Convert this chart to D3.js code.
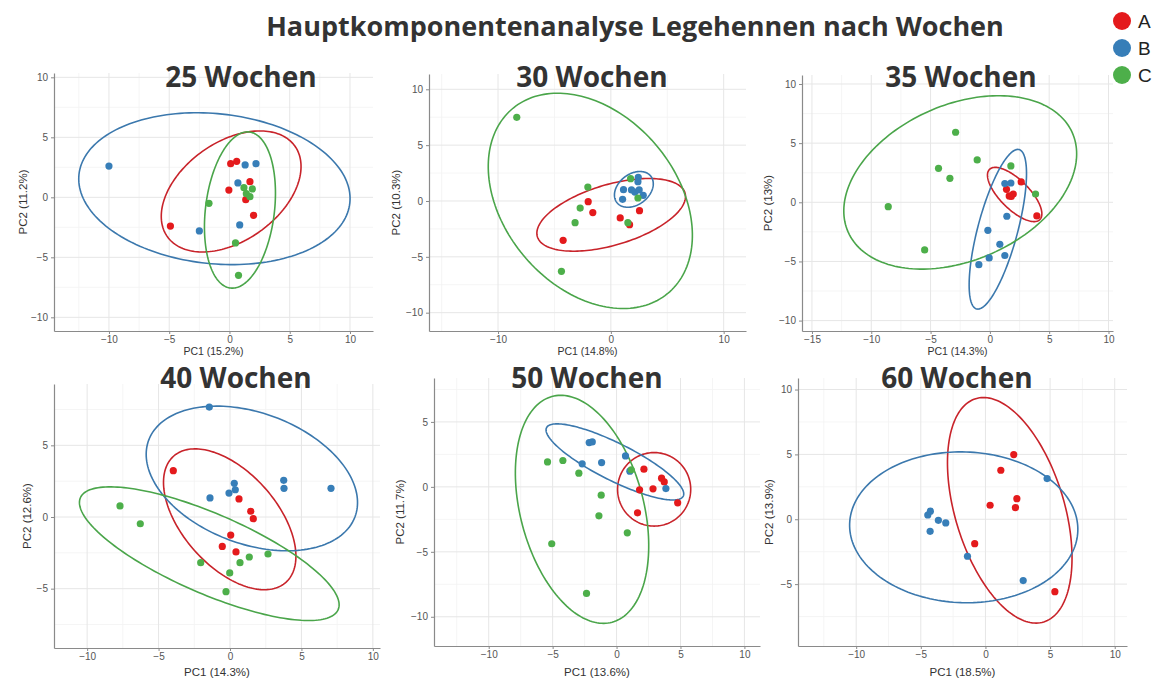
<!DOCTYPE html>
<html>
<head>
<meta charset="utf-8">
<script src="https://cdnjs.cloudflare.com/ajax/libs/d3/7.8.5/d3.min.js"></script>
<style>
  body { margin: 0; background: #fff; }
  text { font-family: "Liberation Sans", Arial, sans-serif; }
  .title { font-family: "Open Sans", sans-serif; font-weight: 700; fill: #333; }
</style>
</head>
<body>
<div id="chart-area"></div>
<script>
/*
*    PCA Legehennen - 6 panels, one per age in weeks
*/

let groups = ["A", "B", "C"];
let pointColors = ["#e41a1c", "#377eb8", "#4daf4a"];
let ellipseColors = ["#c8232a", "#3b78ad", "#4aa54a"];

let weeks = ["25 Wochen", "30 Wochen", "35 Wochen", "40 Wochen", "50 Wochen", "60 Wochen"];
let pc1Labels = ["PC1 (15.2%)", "PC1 (14.8%)", "PC1 (14.3%)", "PC1 (14.3%)", "PC1 (13.6%)", "PC1 (18.5%)"];
let pc2Labels = ["PC2 (11.2%)", "PC2 (10.3%)", "PC2 (13%)", "PC2 (12.6%)", "PC2 (11.7%)", "PC2 (13.9%)"];

let xTicks = [[-10,-5,0,5,10], [-10,0,10], [-15,-10,-5,0,5,10], [-10,-5,0,5,10], [-10,-5,0,5,10], [-10,-5,0,5,10]];
let yTicks = [[-10,-5,0,5,10], [-10,-5,0,5,10], [-10,-5,0,5,10], [-5,0,5], [-10,-5,0,5], [-5,0,5,10]];

// scores: [group, PC1, PC2]
let scores25 = [
  ["A",-4.9,-2.4],["A",-0.05,0.6],["A",0.1,2.8],["A",0.6,3.0],["A",1.7,1.3],["A",1.35,-0.2],["A",2.0,-1.5],
  ["B",-10.0,2.6],["B",-2.5,-2.8],["B",1.3,2.7],["B",2.2,2.8],["B",0.7,1.2],["B",0.85,-2.3],
  ["C",-1.7,-0.5],["C",1.2,0.8],["C",1.9,0.7],["C",1.4,0.3],["C",1.7,0.05],["C",0.5,-3.8],["C",0.75,-6.5]
];
let scores30 = [
  ["A",-4.23,-3.52],["A",-2.01,-0.06],["A",-1.6,-1.04],["A",0.83,-1.52],["A",1.66,-2.12],["A",2.54,-0.87],
  ["B",1.04,0.15],["B",1.12,1.01],["B",1.83,0.99],["B",2.13,0.8],["B",2.4,1.73],["B",2.43,2.12],["B",2.51,0.99],["B",2.87,0.51],
  ["C",-8.34,7.49],["C",-4.38,-6.3],["C",-3.17,-1.94],["C",-2.72,-0.63],["C",-2.04,1.25],["C",1.51,-1.94],["C",2.4,0.27],["C",1.75,2.0]
];
let scores35 = [
  ["A",2.64,1.72],["A",1.4,1.1],["A",1.63,0.54],["A",1.97,0.7],["A",1.8,0.5],["A",3.96,-1.15],
  ["B",1.26,1.58],["B",1.77,1.63],["B",1.43,-1.18],["B",-0.17,-2.37],["B",0.84,-3.55],["B",-0.06,-4.7],["B",1.26,-4.5],["B",-0.93,-5.27],
  ["C",-8.57,-0.37],["C",-5.5,-4.03],["C",-4.33,2.87],["C",-3.37,2.03],["C",-2.89,5.92],["C",-1.07,3.58],["C",1.77,3.07],["C",3.85,0.7]
];
let scores40 = [
  ["A",-3.97,3.23],["A",0.63,1.26],["A",1.45,0.4],["A",1.63,-0.12],["A",0.05,-1.26],["A",-0.54,-2.05],["A",0.42,-2.44],
  ["B",-1.45,7.67],["B",-1.4,1.33],["B",-0.07,1.67],["B",0.3,2.35],["B",0.37,1.9],["B",3.76,2.56],["B",3.78,2.0],["B",7.07,2.0],
  ["C",-7.7,0.77],["C",-6.28,-0.47],["C",-2.05,-3.19],["C",-0.02,-3.9],["C",0.7,-3.19],["C",1.35,-2.79],["C",2.66,-2.58],["C",-0.28,-5.21]
];
let scores50 = [
  ["A",2.14,1.36],["A",3.52,0.67],["A",3.73,0.38],["A",1.8,-0.23],["A",2.85,-0.15],["A",4.78,-1.23],["A",1.64,-2.0],
  ["B",-2.69,1.77],["B",-2.14,3.41],["B",-1.9,3.46],["B",-1.17,1.87],["B",0.7,2.38],["B",1.04,1.21],["B",3.86,-0.13],
  ["C",-5.4,1.92],["C",-4.2,2.03],["C",-2.95,1.05],["C",1.15,1.31],["C",-1.2,-0.64],["C",-1.38,-2.23],["C",0.84,-3.54],["C",-5.07,-4.38],["C",-2.35,-8.2]
];
let scores60 = [
  ["A",2.19,4.99],["A",1.19,3.78],["A",0.36,1.08],["A",2.43,1.59],["A",2.32,0.9],["A",-0.83,-1.88],["A",5.37,-5.58],
  ["B",-4.46,0.33],["B",-4.26,0.62],["B",-4.28,-0.93],["B",-3.64,-0.08],["B",-3.07,-0.28],["B",-1.39,-2.85],["B",2.92,-4.73],["B",4.77,3.14]
];

// ellipses: [group, centre PC1, centre PC2, semi axis a, semi axis b, angle in degrees]
let ellipses25 = [["A",0.14,0.49,6.5,4.1,35.6], ["B",-1.25,0.72,11.3,6.25,-6], ["C",0.87,-1.06,6.55,2.86,83.1]];
let ellipses30 = [["A",0.03,-1.24,6.83,2.71,16.7], ["B",2.04,1.04,1.91,1.37,38.5], ["C",-1.82,0.01,10.76,7.68,-50.6]];
let ellipses35 = [["A",2.09,0.66,3.0,1.23,-45], ["B",0.67,-2.28,6.97,1.68,75.1], ["C",-2.5,1.68,10.34,6.57,24]];
let ellipses40 = [["A",-0.02,-0.16,5.9,3.29,-48.2], ["B",1.53,2.69,7.7,4.57,-20.2], ["C",-1.45,-2.56,9.83,2.78,-23.4]];
let ellipses50 = [["A",2.94,-0.19,2.86,2.83,0], ["B",-0.13,1.92,5.96,1.44,-26.2], ["C",-2.7,-1.73,9.0,4.82,-74.8]];
let ellipses60 = [["A",1.88,0.69,9.0,4.22,-73], ["B",-1.68,-0.62,8.83,5.81,-1.8]];

let allScores = [scores25, scores30, scores35, scores40, scores50, scores60];
let allEllipses = [ellipses25, ellipses30, ellipses35, ellipses40, ellipses50, ellipses60];

// panel boxes (pixels), visible axis ranges, title / axis title spots
let layout = [
  { left:54,  right:373,  top:73,  bottom:331, xd:[-14.56,11.91], yd:[-11.14,10.36], tx:241, ty:87,    xl:355, xf:10.5, yl:23 },
  { left:429, right:746,  top:74,  bottom:331, xd:[-16.12,11.98], yd:[-11.64,11.37], tx:592, ty:87,    xl:355, xf:10.5, yl:396 },
  { left:802, right:1113, top:75,  bottom:331, xd:[-15.84,10.38], yd:[-10.88,10.76], tx:961, ty:87,    xl:355, xf:10.5, yl:768 },
  { left:54,  right:380,  top:384, bottom:648, xd:[-12.32,10.5],  yd:[-9.14,9.28],   tx:236, ty:387.5, xl:676, xf:11.5, yl:27 },
  { left:434, right:760,  top:378, bottom:646, xd:[-14.28,11.22], yd:[-12.25,8.38],  tx:587, ty:387.5, xl:676, xf:11.5, yl:400 },
  { left:798, right:1127, top:378, bottom:646, xd:[-14.5,10.95],  yd:[-9.77,10.89],  tx:957, ty:387.5, xl:676, xf:11.5, yl:769 }
];

let svg = d3.select("#chart-area")
            .append("svg")
            .attr("width", 1152)
            .attr("height", 684);

let minus = function(v){ return (v < 0 ? "\u2212" : "") + Math.abs(v); };

layout.forEach(function(p, i){
    let x = d3.scaleLinear().domain(p.xd).range([p.left, p.right]);
    let y = d3.scaleLinear().domain(p.yd).range([p.bottom, p.top]);
    let g = svg.append("g");

    // grid: minor lines half way between major ticks
    let xs = xTicks[i], ys = yTicks[i];
    let xStep = xs[1] - xs[0], yStep = ys[1] - ys[0];
    let xMinor = d3.range(xs[0] - xStep * 1.5, xs[xs.length-1] + xStep, xStep).filter(function(v){ return v > p.xd[0] && v < p.xd[1]; });
    let yMinor = d3.range(ys[0] - yStep * 1.5, ys[ys.length-1] + yStep, yStep).filter(function(v){ return v > p.yd[0] && v < p.yd[1]; });

    g.selectAll(".xminor").data(xMinor).enter().append("line")
        .attr("x1", function(d){ return x(d); }).attr("x2", function(d){ return x(d); })
        .attr("y1", p.top).attr("y2", p.bottom)
        .attr("stroke", "#f3f3f3").attr("stroke-width", 0.8);
    g.selectAll(".yminor").data(yMinor).enter().append("line")
        .attr("y1", function(d){ return y(d); }).attr("y2", function(d){ return y(d); })
        .attr("x1", p.left).attr("x2", p.right)
        .attr("stroke", "#f3f3f3").attr("stroke-width", 0.8);
    g.selectAll(".xmajor").data(xs).enter().append("line")
        .attr("x1", function(d){ return x(d); }).attr("x2", function(d){ return x(d); })
        .attr("y1", p.top).attr("y2", p.bottom)
        .attr("stroke", "#e6e6e6").attr("stroke-width", 1);
    g.selectAll(".ymajor").data(ys).enter().append("line")
        .attr("y1", function(d){ return y(d); }).attr("y2", function(d){ return y(d); })
        .attr("x1", p.left).attr("x2", p.right)
        .attr("stroke", "#e6e6e6").attr("stroke-width", 1);

    // axes
    let xAxis = d3.axisBottom(x).tickValues(xs).tickSize(3).tickSizeOuter(0).tickPadding(2).tickFormat(minus);
    let yAxis = d3.axisLeft(y).tickValues(ys).tickSize(3).tickSizeOuter(0).tickPadding(3).tickFormat(minus);

    let xg = g.append("g").attr("transform", "translate(0," + p.bottom + ")").call(xAxis);
    let yg = g.append("g").attr("transform", "translate(" + p.left + ",0)").call(yAxis);
    [xg, yg].forEach(function(a){
        a.select(".domain").attr("stroke", "#8a8a8a").attr("stroke-width", 1.2);
        a.selectAll(".tick line").attr("stroke", "#8a8a8a");
        a.selectAll(".tick text").attr("fill", "#555").attr("font-size", "10px")
         .attr("font-family", "'Liberation Sans', Arial, sans-serif");
    });

    // confidence ellipses
    let line = d3.line()
                 .x(function(d){ return x(d[0]); })
                 .y(function(d){ return y(d[1]); })
                 .curve(d3.curveLinearClosed);

    allEllipses[i].forEach(function(e){
        let phi = e[5] * Math.PI / 180;
        let pts = d3.range(0, 360, 2).map(function(t){
            let r = t * Math.PI / 180;
            return [e[1] + e[3] * Math.cos(r) * Math.cos(phi) - e[4] * Math.sin(r) * Math.sin(phi),
                    e[2] + e[3] * Math.cos(r) * Math.sin(phi) + e[4] * Math.sin(r) * Math.cos(phi)];
        });
        g.append("path")
         .attr("d", line(pts))
         .attr("fill", "none")
         .attr("stroke", ellipseColors[groups.indexOf(e[0])])
         .attr("stroke-width", 1.6);
    });

    // points
    g.selectAll("circle").data(allScores[i]).enter().append("circle")
        .attr("cx", function(d){ return x(d[1]); })
        .attr("cy", function(d){ return y(d[2]); })
        .attr("r", 3.6)
        .attr("fill", function(d){ return pointColors[groups.indexOf(d[0])]; });

    // axis titles
    g.append("text")
        .attr("x", (p.left + p.right) / 2)
        .attr("y", p.xl)
        .attr("text-anchor", "middle")
        .attr("font-size", p.xf + "px")
        .attr("fill", "#333")
        .text(pc1Labels[i]);

    g.append("text")
        .attr("transform", "translate(" + (p.yl + 4) + "," + ((p.top + p.bottom) / 2) + ") rotate(-90)")
        .attr("text-anchor", "middle")
        .attr("font-size", "11.5px")
        .attr("fill", "#333")
        .text(pc2Labels[i]);

    // panel title
    svg.append("text")
        .attr("class", "title")
        .attr("x", p.tx)
        .attr("y", p.ty)
        .attr("text-anchor", "middle")
        .attr("font-size", "28px")
        .text(weeks[i]);
});

// main title
svg.append("text")
    .attr("class", "title")
    .attr("x", 635)
    .attr("y", 36)
    .attr("text-anchor", "middle")
    .attr("font-size", "27px")
    .text("Hauptkomponentenanalyse Legehennen nach Wochen");

// legend
let legend = svg.selectAll(".legend").data(groups).enter().append("g")
    .attr("transform", function(d, i){ return "translate(1122," + (21 + i * 27) + ")"; });
legend.append("circle")
    .attr("r", 9)
    .attr("fill", function(d, i){ return pointColors[i]; });
legend.append("text")
    .attr("x", 16)
    .attr("y", 7)
    .attr("font-size", "19px")
    .attr("fill", "#222")
    .text(function(d){ return d; });
</script>
</body>
</html>
